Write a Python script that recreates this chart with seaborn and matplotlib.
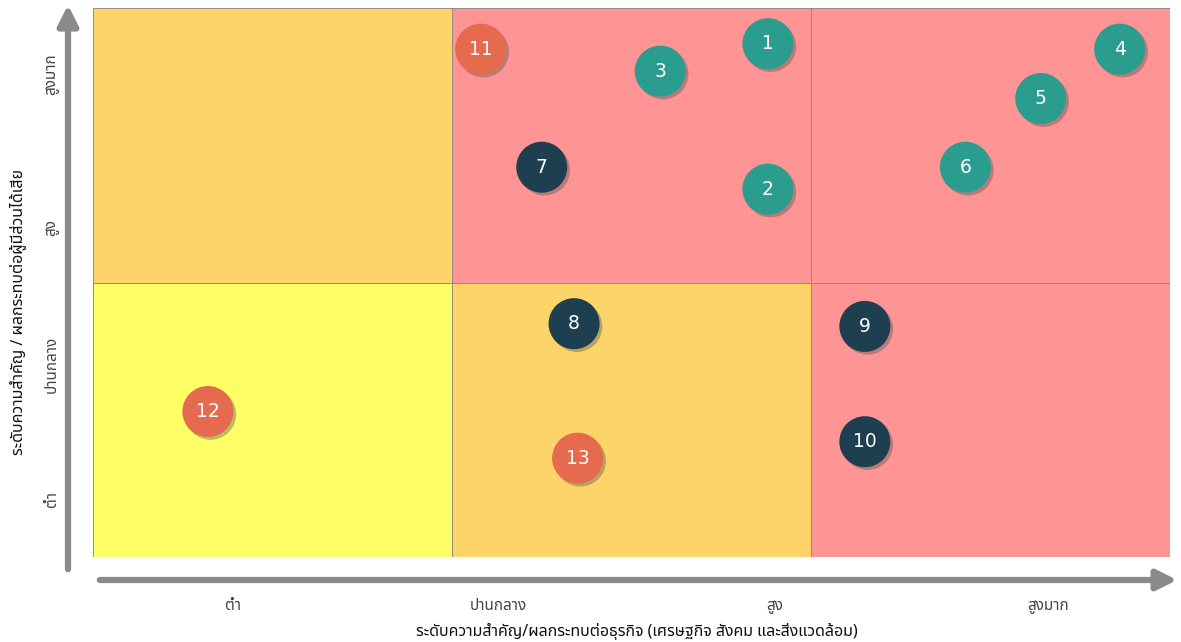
import matplotlib
matplotlib.use('Agg')
import matplotlib.pyplot as plt
import matplotlib.patheffects as pe
from matplotlib.patches import Rectangle, FancyArrowPatch
import pandas as pd
import seaborn as sns

# Issue numbers and their position on the matrix (x = business impact, y = stakeholder impact)
issue_ids = ['1', '2', '3', '4', '5', '6', '7', '8', '9', '10', '11', '12', '13']
x_vals = [1.88, 1.88, 1.58, 2.86, 2.64, 2.43, 1.25, 1.34, 2.15, 2.15, 1.08, 0.32, 1.35]
y_vals = [1.87, 1.34, 1.77, 1.85, 1.67, 1.42, 1.42, 0.85, 0.84, 0.42, 1.85, 0.53, 0.36]
groups = ['teal'] * 6 + ['navy'] * 4 + ['orange'] * 3

# Background cells (column, row, colour)
cell_cols = [0, 1, 2, 0, 1, 2]
cell_rows = [1, 1, 1, 0, 0, 0]
cell_colors = ['#FDD468', '#FF9494', '#FF9494', '#FFFF66', '#FDD468', '#FF9494']

x_levels = ['ต่ำ', 'ปานกลาง', 'สูง', 'สูงมาก']
x_level_pos = [0.39, 1.13, 1.90, 2.66]
y_levels = ['ต่ำ', 'ปานกลาง', 'สูง', 'สูงมาก']
y_level_pos = [0.21, 0.70, 1.20, 1.76]

palette = {'teal': '#2A9D8F', 'navy': '#1E3F4F', 'orange': '#E66A4E'}
ARROW_GRAY = '#8a8a8a'

sns.set_theme(style='white')
plt.rcParams['font.family'] = ['Noto Sans Thai', 'DejaVu Sans']

df = pd.DataFrame({'id': issue_ids, 'x': x_vals, 'y': y_vals, 'group': groups})

fig = plt.figure(figsize=(11.81, 6.42), dpi=100)
ax = fig.add_axes([93 / 1181, 85 / 642, 1077 / 1181, 549 / 642])

for c, r, col in zip(cell_cols, cell_rows, cell_colors):
    ax.add_patch(Rectangle((c, r), 1, 1, facecolor=col, edgecolor='#9a8a80', linewidth=0.7, zorder=0))

sns.scatterplot(data=df, x='x', y='y', hue='group', palette=palette, s=1350,
                edgecolor='none', legend=False, ax=ax, zorder=3)
for coll in ax.collections:
    coll.set_path_effects([pe.SimplePatchShadow(offset=(2, -2), shadow_rgbFace='#555555', alpha=0.4),
                           pe.Normal()])

for _, row in df.iterrows():
    ax.text(row['x'], row['y'], row['id'], color='white', ha='center', va='center',
            fontsize=13.5, family=['DejaVu Sans'], zorder=4)

ax.set_xlim(0, 3)
ax.set_ylim(0, 2)
ax.set_xticks(x_level_pos)
ax.set_xticklabels(x_levels, fontsize=11, color='#444444')
ax.set_yticks(y_level_pos)
ax.set_yticklabels(y_levels, fontsize=11, color='#444444', rotation=90, va='center')
ax.tick_params(axis='x', length=0, pad=30)
ax.tick_params(axis='y', length=0, pad=24)
for s in ax.spines.values():
    s.set_visible(False)
ax.set_xlabel('')
ax.set_ylabel('')

# Axis arrows
arrow_kw = dict(transform=fig.transFigure, arrowstyle='-|>,head_length=12,head_width=6',
                mutation_scale=1, linewidth=4.5, color=ARROW_GRAY)
fig.add_artist(FancyArrowPatch((97 / 1181, 1 - 580 / 642), (1180 / 1181, 1 - 580 / 642), **arrow_kw))
fig.add_artist(FancyArrowPatch((68 / 1181, 1 - 572 / 642), (68 / 1181, 1 - 2 / 642), **arrow_kw))

fig.text(637 / 1181, 1 - 632 / 642, 'ระดับความสำคัญ/ผลกระทบต่อธุรกิจ (เศรษฐกิจ สังคม และสิ่งแวดล้อม)',
         ha='center', va='center', fontsize=11.5, weight='medium', color='#111111')
fig.text(18 / 1181, 1 - 312 / 642, 'ระดับความสำคัญ / ผลกระทบต่อผู้มีส่วนได้เสีย',
         ha='center', va='center', rotation=90, fontsize=11.5, weight='medium', color='#111111')

fig.savefig('out.png', dpi=100)
